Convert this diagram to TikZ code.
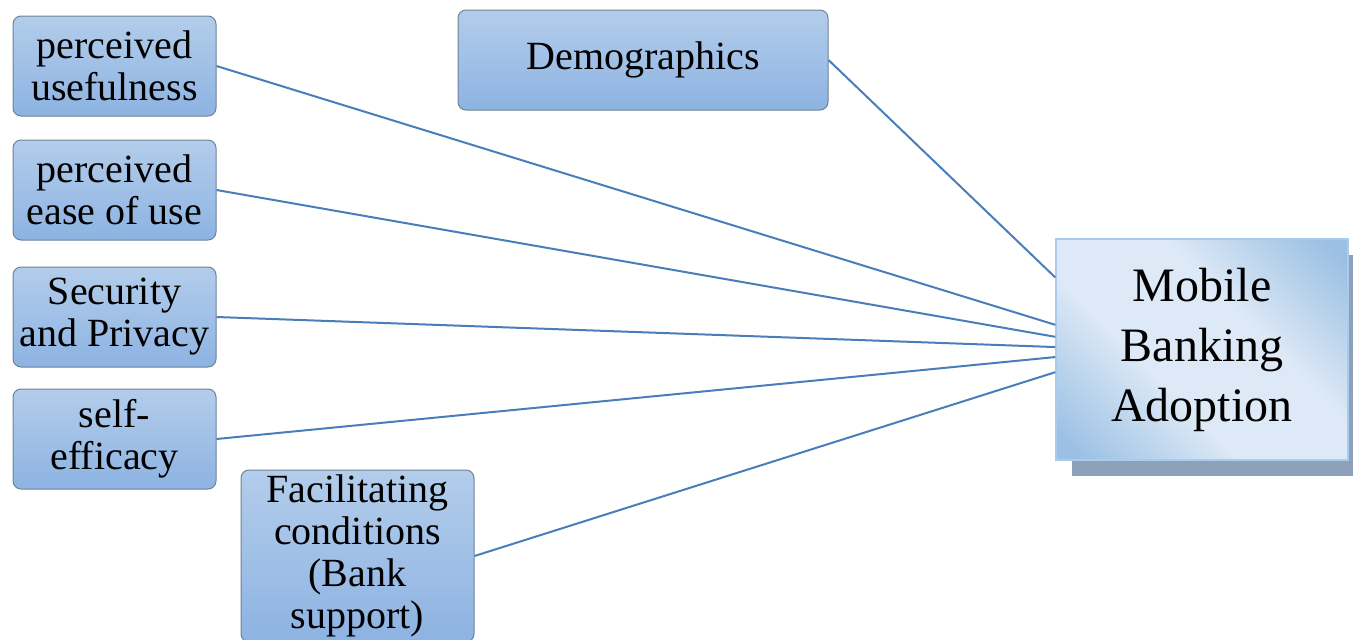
\documentclass[tikz,border=0pt]{standalone}
\usepackage{fontspec}
\setmainfont{Liberation Serif}
\usetikzlibrary{calc}
\definecolor{boxtop}{HTML}{B3CDEB}
\definecolor{boxbot}{HTML}{8DB3E2}
\definecolor{boxline}{HTML}{6F8296}
\definecolor{linkblue}{HTML}{4A7EBB}
\definecolor{mblight}{HTML}{DDE9F6}
\definecolor{mbdark}{HTML}{9BC0E4}
\definecolor{mbline}{HTML}{A9CBEC}
\definecolor{mbshadow}{HTML}{8DA2BA}
% dark corners, broad light band across the diagonal
\pgfdeclarehorizontalshading{mbshade}{100bp}{color(0bp)=(mbdark); color(18bp)=(mbdark);
  color(40bp)=(mblight); color(60bp)=(mblight); color(82bp)=(mbdark); color(100bp)=(mbdark)}
\tikzset{
  factor/.style={draw=boxline, line width=1pt, rounded corners=8pt,
    top color=boxtop, bottom color=boxbot, align=center,
    font=\fontsize{40}{42}\selectfont, inner sep=0pt},
  outcome/.style={draw=mbline, line width=1.5pt, shading=mbshade,
    shading angle=45, align=center,
    font=\fontsize{48}{60}\selectfont, inner sep=0pt,
    minimum width=292pt, minimum height=221pt},
  link/.style={draw=linkblue, line width=2pt}
}
\begin{document}
\begin{tikzpicture}[x=1pt,y=-1pt]
\useasboundingbox (0,0) rectangle (1353,640);

% outcome box with its drop shadow
\fill[mbshadow] (1072,255) rectangle (1364,476);
\node[outcome] (mba) at (1202,349.5) {Mobile\\Banking\\Adoption};

% factor boxes
\node[factor, minimum width=203pt, minimum height=100pt] (pu) at (114.5,66) {perceived\\usefulness};
\node[factor, minimum width=203pt, minimum height=100pt] (peou) at (114.5,190) {perceived\\ease of use};
\node[factor, minimum width=203pt, minimum height=100pt] (sp) at (114.5,317) {Security\\and Privacy};
\node[factor, minimum width=203pt, minimum height=100pt] (se) at (114.5,439) {self-\\efficacy};
\node[factor, minimum width=233pt, minimum height=172pt] (fc) at (357.5,556) {Facilitating\\conditions\\(Bank\\support)};
\node[factor, minimum width=370pt, minimum height=100pt] (dem) at (643,60) {Demographics};

% entry points on the left edge of the outcome box
\coordinate (inDem)  at ($(mba.north west)!0.176!(mba.south west)$);
\coordinate (inPU)   at ($(mba.north west)!0.389!(mba.south west)$);
\coordinate (inPEOU) at ($(mba.north west)!0.443!(mba.south west)$);
\coordinate (inSP)   at ($(mba.north west)!0.489!(mba.south west)$);
\coordinate (inSE)   at ($(mba.north west)!0.534!(mba.south west)$);
\coordinate (inFC)   at ($(mba.north west)!0.602!(mba.south west)$);

\draw[link] (dem.east) -- (inDem);
\draw[link] (pu.east) -- (inPU);
\draw[link] (peou.east) -- (inPEOU);
\draw[link] (sp.east) -- (inSP);
\draw[link] (se.east) -- (inSE);
\draw[link] (fc.east) -- (inFC);
\end{tikzpicture}
\end{document}
